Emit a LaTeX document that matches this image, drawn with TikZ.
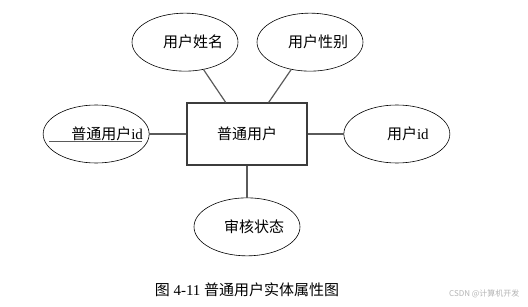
\documentclass[tikz,border=0pt]{standalone}
\usepackage{fontspec}
\setmainfont{Liberation Serif}
\newfontfamily\cjk{Noto Sans CJK SC}
\usepackage{tikz}
\usetikzlibrary{positioning, shapes.geometric}
\definecolor{lineGrey}{HTML}{5A5A5A}
\definecolor{boxGrey}{HTML}{3C3C3C}
\definecolor{markGrey}{HTML}{B4B4B4}

\begin{document}
\begin{tikzpicture}[x=1pt, y=1pt, font=\fontsize{15}{17}\selectfont,
  entity/.style={draw=boxGrey, line width=1.1pt, minimum width=120pt, minimum height=62pt, inner sep=0pt},
  attr/.style={draw=black, ellipse, line width=0.6pt, minimum width=106pt, minimum height=58pt, inner sep=0pt},
  link/.style={draw=lineGrey, line width=1.2pt}]
  \useasboundingbox (0,0) rectangle (528,306);
  % entity
  \node[entity] (user) at (247,172) {\cjk 普通用户};
  % attributes
  \node[attr, above=31pt of user, xshift=-62pt] (name) {};
  \node at ([xshift=8pt]name.center) (nameText) {\cjk 用户姓名};
  \node[attr, above=31pt of user, xshift=63pt] (gender) {};
  \node at ([xshift=8pt]gender.center) (genderText) {\cjk 用户性别};
  \node[attr, left=37pt of user] (mainId) {};
  \node at ([xshift=11pt]mainId.center) (mainIdText) {{\cjk 普通用户}id};
  \node[attr, right=36pt of user] (userId) {};
  \node at ([xshift=11pt]userId.center) (userIdText) {{\cjk 用户}id};
  \node[attr, below=32pt of user] (status) {};
  \node at ([xshift=7pt]status.center) (statusText) {\cjk 审核状态};
  % key underline
  \draw[lineGrey, line width=1pt] ([xshift=-47pt, yshift=-7pt]mainId.center) -- ([xshift=46pt, yshift=-7pt]mainId.center);
  % links
  \draw[link] (name) -- (user);
  \draw[link] (gender) -- (user);
  \draw[link] (mainId) -- (user);
  \draw[link] (userId) -- (user);
  \draw[link] (status) -- (user);
  % caption
  \node (caption) at (247,16) {{\cjk 图} 4-11 {\cjk 普通用户实体属性图}};
  \node[text=markGrey, font=\fontsize{8}{9}\selectfont, anchor=east] (mark) at (523,12) {\cjk CSDN @计算机开发};
\end{tikzpicture}
\end{document}
